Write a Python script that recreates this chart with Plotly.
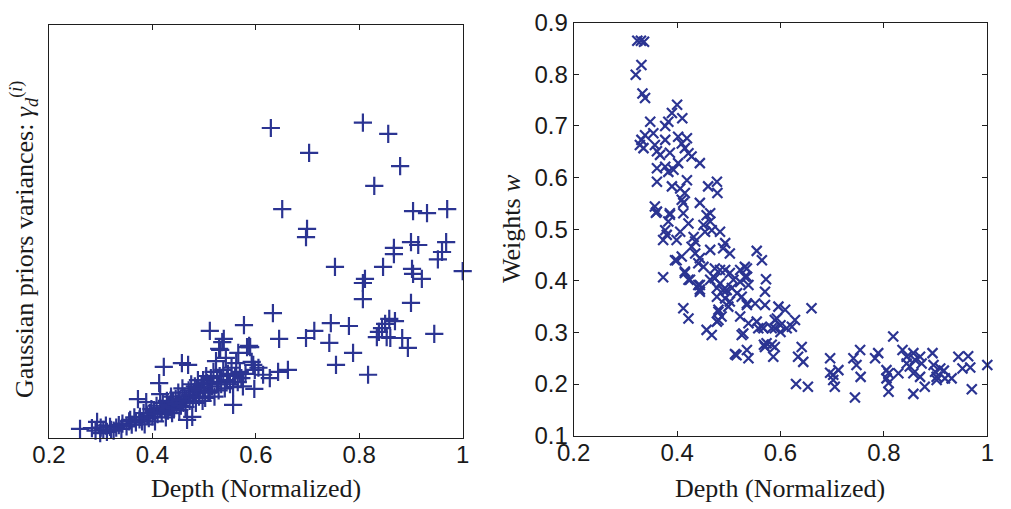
import plotly.graph_objects as go

# ---------------- data ----------------
# Left panel: depth (normalized) vs Gaussian prior variance (no y scale shown; arbitrary units 0..1)
left_band_pts = [
    (0.26, 0.022), (0.283, 0.024), (0.29, 0.018), (0.293, 0.039), (0.299, 0.012), (0.30, 0.025),
    (0.305, 0.02), (0.31, 0.03), (0.312, 0.015), (0.318, 0.027), (0.32, 0.02), (0.325, 0.018),
    (0.33, 0.025), (0.335, 0.031), (0.34, 0.022), (0.342, 0.035), (0.35, 0.028), (0.355, 0.04),
    (0.357, 0.044), (0.36, 0.032), (0.365, 0.05), (0.368, 0.038), (0.372, 0.094), (0.375, 0.045),
    (0.376, 0.051), (0.38, 0.04), (0.383, 0.06), (0.385, 0.033), (0.388, 0.087), (0.39, 0.055),
    (0.393, 0.048), (0.395, 0.06), (0.398, 0.07), (0.40, 0.052), (0.403, 0.065), (0.405, 0.04),
    (0.408, 0.078), (0.41, 0.058), (0.413, 0.133), (0.415, 0.106), (0.415, 0.073), (0.418, 0.062),
    (0.42, 0.085), (0.422, 0.172), (0.424, 0.07), (0.426, 0.05), (0.428, 0.09), (0.43, 0.066),
    (0.432, 0.08), (0.434, 0.075), (0.436, 0.10), (0.438, 0.06), (0.44, 0.088), (0.442, 0.072),
    (0.445, 0.095), (0.447, 0.082), (0.45, 0.11), (0.452, 0.068), (0.453, 0.092), (0.455, 0.078),
    (0.457, 0.181), (0.458, 0.12), (0.46, 0.085), (0.462, 0.10), (0.464, 0.075), (0.466, 0.095),
    (0.467, 0.044), (0.469, 0.177), (0.47, 0.115), (0.472, 0.09), (0.473, 0.104), (0.475, 0.13),
    (0.477, 0.051), (0.478, 0.098), (0.48, 0.11), (0.482, 0.125), (0.484, 0.085), (0.486, 0.121),
    (0.488, 0.14), (0.49, 0.10), (0.492, 0.115), (0.495, 0.13), (0.497, 0.09), (0.498, 0.14),
    (0.50, 0.12), (0.502, 0.097), (0.504, 0.15), (0.506, 0.133), (0.508, 0.11), (0.511, 0.259),
    (0.511, 0.111), (0.513, 0.145), (0.515, 0.125), (0.518, 0.16), (0.52, 0.10), (0.523, 0.186),
    (0.525, 0.136), (0.528, 0.115), (0.529, 0.216), (0.53, 0.15), (0.531, 0.213), (0.533, 0.13),
    (0.535, 0.232), (0.537, 0.165), (0.538, 0.24), (0.54, 0.12), (0.542, 0.194), (0.544, 0.14),
    (0.546, 0.155), (0.55, 0.13), (0.553, 0.17), (0.556, 0.123), (0.556, 0.08), (0.56, 0.15),
    (0.562, 0.181), (0.565, 0.135), (0.566, 0.206), (0.569, 0.16), (0.572, 0.145), (0.575, 0.125),
    (0.577, 0.273), (0.58, 0.155), (0.583, 0.22), (0.587, 0.223), (0.592, 0.184), (0.598, 0.165),
    (0.605, 0.17),
]
left_sparse_pts = [
    (0.629, 0.75), (0.807, 0.763), (0.856, 0.736), (0.703, 0.69), (0.879, 0.658), (0.829, 0.61),
    (0.651, 0.554), (0.904, 0.549), (0.931, 0.544), (0.97, 0.554), (0.699, 0.506), (0.697, 0.486),
    (0.90, 0.474), (0.914, 0.467), (0.968, 0.474), (0.867, 0.46), (0.867, 0.445), (0.96, 0.45),
    (0.952, 0.432), (0.753, 0.414), (0.846, 0.414), (0.902, 0.409), (0.904, 0.397), (0.921, 0.385),
    (1.0, 0.404), (0.811, 0.385), (0.807, 0.375), (0.807, 0.336), (0.90, 0.327), (0.633, 0.302),
    (0.745, 0.278), (0.78, 0.271), (0.858, 0.288), (0.869, 0.283), (0.85, 0.276), (0.844, 0.266),
    (0.838, 0.257), (0.713, 0.259), (0.697, 0.242), (0.645, 0.24), (0.742, 0.23), (0.834, 0.244),
    (0.853, 0.244), (0.86, 0.242), (0.883, 0.242), (0.945, 0.252), (0.894, 0.218), (0.788, 0.206),
    (0.755, 0.177), (0.817, 0.153), (0.662, 0.165), (0.643, 0.16), (0.627, 0.145), (0.614, 0.153),
    (0.595, 0.177), (0.597, 0.119), (0.589, 0.22),
]

# Right panel: depth (normalized) vs weights w
right_steep_pts = [
    (0.323, 0.865), (0.33, 0.865), (0.336, 0.863), (0.331, 0.818), (0.32, 0.799), (0.333, 0.763),
    (0.338, 0.754), (0.40, 0.741), (0.39, 0.725), (0.41, 0.715), (0.348, 0.708), (0.383, 0.708),
    (0.377, 0.70), (0.354, 0.686), (0.338, 0.682), (0.331, 0.673), (0.328, 0.663), (0.335, 0.657),
    (0.357, 0.663), (0.377, 0.673), (0.402, 0.679), (0.419, 0.676), (0.409, 0.666), (0.415, 0.657),
    (0.422, 0.647), (0.428, 0.641), (0.444, 0.628), (0.361, 0.651), (0.367, 0.644), (0.386, 0.648),
    (0.361, 0.618), (0.377, 0.621), (0.383, 0.611), (0.393, 0.615), (0.402, 0.628), (0.361, 0.592),
    (0.39, 0.583), (0.406, 0.579), (0.419, 0.595), (0.415, 0.57), (0.477, 0.592), (0.46, 0.583),
    (0.478, 0.57), (0.409, 0.557), (0.444, 0.551), (0.357, 0.544), (0.361, 0.534), (0.386, 0.531),
    (0.464, 0.531),
]
right_mid_pts = [
    (0.359, 0.532), (0.412, 0.551), (0.386, 0.528), (0.383, 0.515), (0.412, 0.531), (0.422, 0.511),
    (0.457, 0.527), (0.464, 0.515), (0.451, 0.508), (0.467, 0.498), (0.454, 0.495), (0.483, 0.495),
    (0.377, 0.498), (0.38, 0.489), (0.373, 0.479), (0.406, 0.495), (0.399, 0.479), (0.432, 0.485),
    (0.435, 0.476), (0.428, 0.466), (0.493, 0.473), (0.489, 0.463), (0.502, 0.453), (0.554, 0.458),
    (0.564, 0.44), (0.464, 0.46), (0.435, 0.453), (0.444, 0.444), (0.396, 0.44), (0.409, 0.447),
    (0.441, 0.434), (0.451, 0.427), (0.473, 0.424), (0.483, 0.421), (0.415, 0.418), (0.373, 0.407),
    (0.422, 0.402), (0.464, 0.402), (0.473, 0.405), (0.502, 0.415), (0.522, 0.421), (0.535, 0.424),
    (0.509, 0.402), (0.522, 0.398), (0.531, 0.408), (0.538, 0.392), (0.572, 0.403), (0.441, 0.392),
    (0.444, 0.383), (0.477, 0.386), (0.489, 0.382), (0.506, 0.386), (0.516, 0.376), (0.525, 0.369),
    (0.477, 0.369), (0.493, 0.366), (0.502, 0.36), (0.535, 0.356), (0.551, 0.356), (0.57, 0.379),
    (0.57, 0.353), (0.412, 0.347), (0.422, 0.327), (0.48, 0.344), (0.499, 0.35), (0.486, 0.331),
    (0.477, 0.321), (0.522, 0.331), (0.538, 0.318), (0.554, 0.321), (0.564, 0.311), (0.596, 0.35),
    (0.609, 0.344), (0.593, 0.327), (0.60, 0.314), (0.583, 0.308), (0.612, 0.308), (0.628, 0.324),
    (0.622, 0.311), (0.457, 0.305), (0.467, 0.295), (0.525, 0.295), (0.528, 0.298), (0.573, 0.279),
    (0.589, 0.272), (0.57, 0.272), (0.535, 0.266), (0.512, 0.258), (0.538, 0.25), (0.586, 0.253),
    (0.641, 0.272), (0.634, 0.253), (0.644, 0.243), (0.531, 0.427), (0.535, 0.408), (0.535, 0.353),
    (0.66, 0.347), (0.589, 0.324), (0.589, 0.308), (0.60, 0.301), (0.567, 0.308), (0.557, 0.308),
    (0.568, 0.276), (0.583, 0.276), (0.399, 0.44), (0.415, 0.415), (0.425, 0.402), (0.444, 0.392),
    (0.444, 0.379), (0.48, 0.324), (0.48, 0.34), (0.515, 0.256), (0.47, 0.408), (0.483, 0.395),
    (0.496, 0.382), (0.493, 0.421),
]
right_tail_pts = [
    (0.63, 0.20), (0.653, 0.195), (0.696, 0.25), (0.696, 0.222), (0.702, 0.218), (0.712, 0.227),
    (0.702, 0.208), (0.705, 0.195), (0.741, 0.25), (0.754, 0.266), (0.747, 0.237), (0.755, 0.214),
    (0.744, 0.174), (0.783, 0.25), (0.789, 0.26), (0.818, 0.292), (0.805, 0.227), (0.809, 0.221),
    (0.805, 0.211), (0.809, 0.202), (0.809, 0.185), (0.828, 0.221), (0.836, 0.266), (0.844, 0.253),
    (0.844, 0.24), (0.85, 0.234), (0.857, 0.26), (0.86, 0.247), (0.857, 0.221), (0.87, 0.253),
    (0.873, 0.24), (0.87, 0.214), (0.857, 0.181), (0.879, 0.195), (0.894, 0.26), (0.896, 0.237),
    (0.899, 0.224), (0.902, 0.214), (0.909, 0.23), (0.916, 0.226), (0.902, 0.208), (0.918, 0.211),
    (0.931, 0.211), (0.944, 0.253), (0.952, 0.23), (0.963, 0.254), (0.967, 0.232), (0.97, 0.19),
    (1.0, 0.237),
]

x_ticks = [0.2, 0.4, 0.6, 0.8, 1.0]
x_ticklabels = ["0.2", "0.4", "0.6", "0.8", "1"]
w_ticks = [0.1, 0.2, 0.3, 0.4, 0.5, 0.6, 0.7, 0.8, 0.9]
w_ticklabels = ["0.1", "0.2", "0.3", "0.4", "0.5", "0.6", "0.7", "0.8", "0.9"]

left_pts = left_band_pts + left_sparse_pts
right_pts = right_steep_pts + right_mid_pts + right_tail_pts
left_x = [p[0] for p in left_pts]
left_y = [p[1] for p in left_pts]
right_x = [p[0] for p in right_pts]
right_y = [p[1] for p in right_pts]

# ---------------- figure ----------------
W, H = 1011, 509
MARK = "#2b3492"
AX = "#1e1e1e"
tick_font = dict(family="Liberation Sans, Arial, sans-serif", size=24, color="#1a1a1a")
title_font = dict(family="Liberation Serif, Times New Roman, serif", size=26, color="#1a1a1a")

fig = go.Figure()
fig.add_trace(go.Scatter(
    x=left_x, y=left_y, mode="markers", xaxis="x", yaxis="y",
    marker=dict(symbol="cross-thin", size=13, line=dict(color=MARK, width=2.2), color=MARK),
    showlegend=False, hoverinfo="skip", cliponaxis=False))
fig.add_trace(go.Scatter(
    x=right_x, y=right_y, mode="markers", xaxis="x2", yaxis="y2",
    marker=dict(symbol="x-thin", size=10, line=dict(color=MARK, width=2.2), color=MARK),
    showlegend=False, hoverinfo="skip", cliponaxis=False))

axis_common = dict(showline=True, linecolor=AX, linewidth=1.3, mirror="ticks",
                   ticks="inside", ticklen=5, tickwidth=1, tickcolor=AX, automargin=False,
                   showgrid=False, zeroline=False, tickfont=tick_font)

L0, L1 = 49 / W, 462.7 / W
R0, R1 = 573.7 / W, 987.3 / W
fig.update_layout(
    width=W, height=H, margin=dict(l=0, r=0, t=0, b=0, pad=0, autoexpand=False),
    paper_bgcolor="white", plot_bgcolor="white",
    xaxis=dict(domain=[L0, L1], range=[0.2, 1.0], tickvals=x_ticks, ticktext=x_ticklabels,
               anchor="y", ticklabelstandoff=-5, **axis_common),
    yaxis=dict(domain=[1 - 438 / H, 1 - 24.7 / H], range=[0, 1], showline=True, linecolor=AX,
               linewidth=1.3, mirror=True, ticks="", showticklabels=False, showgrid=False,
               zeroline=False, anchor="x", automargin=False),
    xaxis2=dict(domain=[R0, R1], range=[0.2, 1.0], tickvals=x_ticks, ticktext=x_ticklabels,
                anchor="y2", ticklabelstandoff=-5, **axis_common),
    yaxis2=dict(domain=[1 - 435.7 / H, 1 - 22.7 / H], range=[0.1, 0.9], tickvals=w_ticks,
                ticktext=w_ticklabels, anchor="x2", **axis_common),
)

# axis titles
fig.add_annotation(x=256 / W, y=1 - 488 / H, xref="paper", yref="paper", showarrow=False,
                   text="Depth (Normalized)", font=title_font, xanchor="center", yanchor="middle")
fig.add_annotation(x=780 / W, y=1 - 488 / H, xref="paper", yref="paper", showarrow=False,
                   text="Depth (Normalized)", font=title_font, xanchor="center", yanchor="middle")
fig.add_annotation(x=24 / W, y=1 - 240 / H, xref="paper", yref="paper", showarrow=False,
                   text="Gaussian priors variances: <i>γ</i><sub><i>d</i></sub><sup>(<i>i</i>)</sup>",
                   font=title_font, textangle=-90, xanchor="center", yanchor="middle")
fig.add_annotation(x=511 / W, y=1 - 229 / H, xref="paper", yref="paper", showarrow=False,
                   text="Weights <i>w</i>", font=title_font, textangle=-90,
                   xanchor="center", yanchor="middle")

fig.write_html("out.html")
